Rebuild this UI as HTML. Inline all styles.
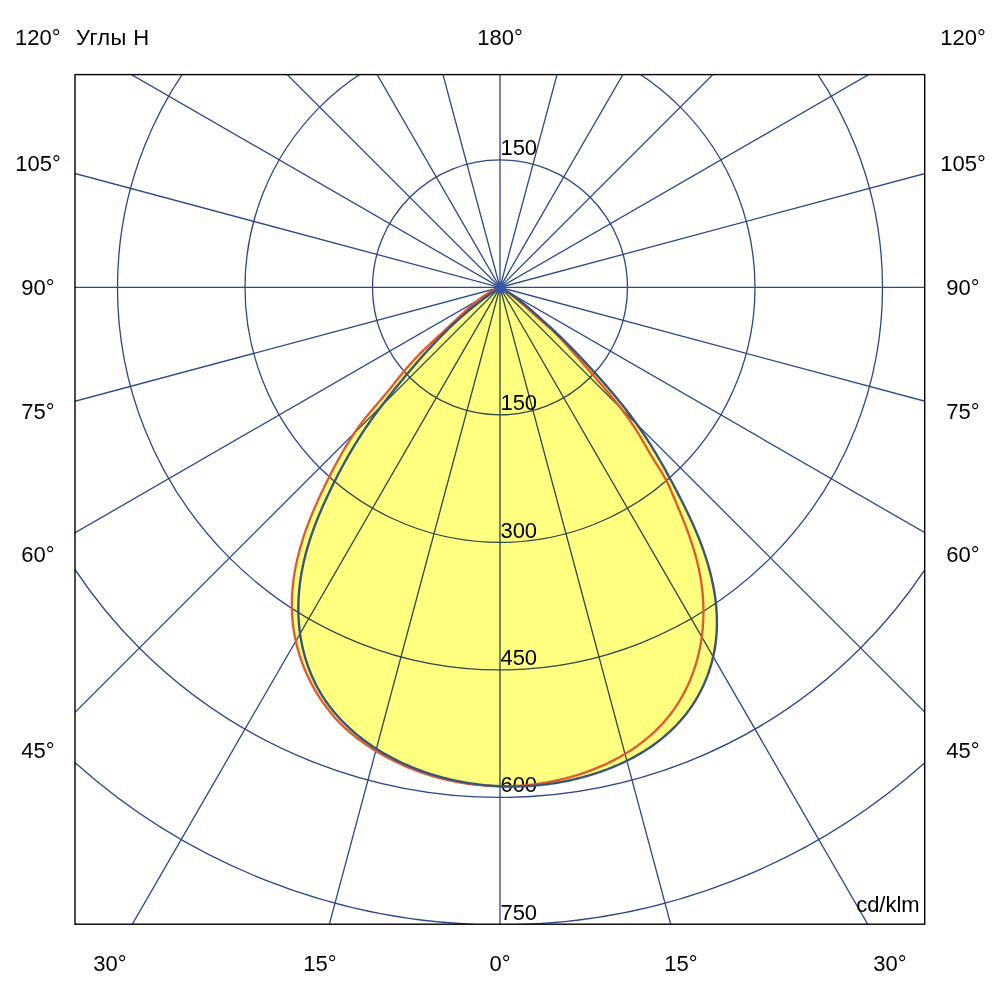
<!DOCTYPE html>
<html><head><meta charset="utf-8"><style>
html,body{margin:0;padding:0;background:#fff;width:1000px;height:1000px;overflow:hidden}
svg{display:block;will-change:transform}
text{font-family:"Liberation Sans",sans-serif;font-size:22px;fill:#000}
</style></head><body>
<svg width="1000" height="1000" viewBox="0 0 1000 1000">
<defs><clipPath id="bx"><rect x="75.0" y="74.6" width="849.7" height="849.6"/></clipPath></defs>
<rect width="1000" height="1000" fill="#fff"/>
<g clip-path="url(#bx)">
<g fill="none" stroke="#2c4787" stroke-width="1.3">
<circle cx="500.0" cy="287.4" r="127.5"/>
<circle cx="500.0" cy="287.4" r="255.0"/>
<circle cx="500.0" cy="287.4" r="382.5"/>
<circle cx="500.0" cy="287.4" r="510.0"/>
<circle cx="500.0" cy="287.4" r="637.5"/>
<circle cx="500.0" cy="287.4" r="765.0"/>
<line x1="500.0" y1="1487.4" x2="500.0" y2="-912.6"/>
<line x1="810.6" y1="1446.5" x2="189.4" y2="-871.7"/>
<line x1="1100.0" y1="1326.6" x2="-100.0" y2="-751.8"/>
<line x1="1348.5" y1="1135.9" x2="-348.5" y2="-561.1"/>
<line x1="1539.2" y1="887.4" x2="-539.2" y2="-312.6"/>
<line x1="1659.1" y1="598.0" x2="-659.1" y2="-23.2"/>
<line x1="1700.0" y1="287.4" x2="-700.0" y2="287.4"/>
<line x1="1659.1" y1="-23.2" x2="-659.1" y2="598.0"/>
<line x1="1539.2" y1="-312.6" x2="-539.2" y2="887.4"/>
<line x1="1348.5" y1="-561.1" x2="-348.5" y2="1135.9"/>
<line x1="1100.0" y1="-751.8" x2="-100.0" y2="1326.6"/>
<line x1="810.6" y1="-871.7" x2="189.4" y2="1446.5"/>
</g>
<text x="500.4" y="155.0" text-anchor="start">150</text>
<text x="500.4" y="410.4" text-anchor="start">150</text>
<text x="500.4" y="537.6" text-anchor="start">300</text>
<text x="500.4" y="664.8" text-anchor="start">450</text>
<text x="500.4" y="792.3" text-anchor="start">600</text>
<text x="500.4" y="920.1" text-anchor="start">750</text>
<g fill="#ffff80" style="mix-blend-mode:multiply">
<path d="M500.00 287.40 L497.15 288.55 L494.33 289.85 L491.54 291.29 L488.78 292.85 L486.06 294.52 L483.38 296.30 L480.74 298.16 L478.14 300.10 L475.58 302.11 L473.07 304.18 L470.60 306.29 L468.17 308.44 L465.78 310.60 L463.43 312.78 L461.12 314.95 L458.85 317.11 L456.61 319.25 L454.40 321.36 L452.22 323.42 L450.06 325.45 L447.93 327.44 L445.82 329.40 L443.74 331.33 L441.67 333.23 L439.63 335.10 L437.62 336.96 L435.62 338.80 L433.65 340.62 L431.70 342.43 L429.77 344.23 L427.86 346.02 L425.97 347.81 L424.11 349.59 L422.27 351.38 L420.46 353.17 L418.67 354.96 L416.91 356.77 L415.18 358.59 L413.47 360.42 L411.79 362.26 L410.14 364.11 L408.52 365.96 L406.92 367.82 L405.34 369.68 L403.79 371.54 L402.25 373.40 L400.74 375.25 L399.25 377.09 L397.77 378.93 L396.30 380.76 L394.86 382.57 L393.42 384.37 L391.99 386.16 L390.57 387.92 L389.15 389.67 L387.74 391.40 L386.34 393.11 L384.93 394.79 L383.53 396.47 L382.13 398.12 L380.73 399.76 L379.34 401.40 L377.95 403.02 L376.57 404.63 L375.20 406.24 L373.83 407.85 L372.47 409.45 L371.12 411.05 L369.78 412.66 L368.45 414.26 L367.14 415.87 L365.83 417.49 L364.55 419.11 L363.28 420.74 L362.02 422.38 L360.78 424.03 L359.56 425.69 L358.36 427.35 L357.17 429.02 L355.99 430.70 L354.84 432.39 L353.69 434.08 L352.56 435.77 L351.45 437.48 L350.35 439.18 L349.26 440.89 L348.19 442.61 L347.13 444.33 L346.08 446.06 L345.04 447.79 L344.02 449.52 L343.00 451.26 L342.00 453.00 L341.01 454.74 L340.02 456.49 L339.05 458.24 L338.09 459.99 L337.13 461.75 L336.19 463.50 L335.25 465.26 L334.32 467.03 L333.39 468.79 L332.47 470.56 L331.56 472.33 L330.66 474.11 L329.76 475.88 L328.86 477.66 L327.97 479.44 L327.08 481.23 L326.20 483.02 L325.32 484.81 L324.44 486.61 L323.57 488.41 L322.70 490.21 L321.84 492.02 L320.98 493.84 L320.13 495.66 L319.28 497.48 L318.44 499.32 L317.60 501.16 L316.77 503.01 L315.95 504.86 L315.14 506.72 L314.33 508.59 L313.53 510.47 L312.73 512.36 L311.95 514.25 L311.17 516.16 L310.40 518.07 L309.64 519.99 L308.89 521.92 L308.15 523.86 L307.42 525.81 L306.70 527.77 L306.00 529.74 L305.30 531.72 L304.62 533.71 L303.94 535.71 L303.28 537.72 L302.64 539.74 L302.01 541.78 L301.39 543.82 L300.78 545.87 L300.19 547.93 L299.62 550.01 L299.06 552.09 L298.52 554.19 L297.99 556.29 L297.48 558.41 L296.99 560.53 L296.52 562.67 L296.07 564.81 L295.63 566.97 L295.22 569.14 L294.83 571.31 L294.46 573.49 L294.11 575.69 L293.78 577.89 L293.48 580.10 L293.20 582.32 L292.95 584.55 L292.72 586.78 L292.51 589.02 L292.33 591.27 L292.18 593.53 L292.05 595.79 L291.96 598.06 L291.88 600.33 L291.84 602.61 L291.83 604.90 L291.84 607.18 L291.89 609.47 L291.97 611.77 L292.07 614.06 L292.21 616.36 L292.38 618.66 L292.58 620.96 L292.81 623.26 L293.08 625.56 L293.38 627.85 L293.71 630.15 L294.08 632.44 L294.48 634.74 L294.91 637.02 L295.38 639.31 L295.87 641.59 L296.41 643.86 L296.97 646.13 L297.57 648.40 L298.19 650.65 L298.85 652.91 L299.55 655.15 L300.27 657.39 L301.03 659.61 L301.81 661.83 L302.63 664.04 L303.48 666.24 L304.36 668.44 L305.27 670.62 L306.22 672.79 L307.19 674.95 L308.19 677.09 L309.22 679.23 L310.28 681.35 L311.37 683.46 L312.49 685.56 L313.64 687.64 L314.82 689.71 L316.02 691.76 L317.25 693.80 L318.51 695.82 L319.80 697.83 L321.12 699.82 L322.46 701.80 L323.83 703.76 L325.23 705.69 L326.66 707.61 L328.12 709.51 L329.60 711.39 L331.11 713.25 L332.65 715.08 L334.22 716.89 L335.82 718.68 L337.44 720.44 L339.09 722.18 L340.77 723.89 L342.48 725.57 L344.21 727.23 L345.97 728.86 L347.75 730.46 L349.56 732.04 L351.39 733.59 L353.24 735.11 L355.11 736.61 L357.00 738.08 L358.91 739.53 L360.83 740.95 L362.78 742.35 L364.74 743.73 L366.72 745.08 L368.71 746.41 L370.71 747.71 L372.73 748.99 L374.76 750.26 L376.80 751.50 L378.86 752.72 L380.92 753.92 L383.00 755.09 L385.09 756.25 L387.19 757.39 L389.29 758.50 L391.41 759.60 L393.54 760.67 L395.68 761.72 L397.83 762.75 L399.99 763.76 L402.15 764.75 L404.33 765.71 L406.51 766.66 L408.71 767.58 L410.91 768.48 L413.12 769.36 L415.34 770.22 L417.56 771.05 L419.80 771.87 L422.04 772.66 L424.28 773.43 L426.54 774.17 L428.80 774.90 L431.07 775.60 L433.34 776.28 L435.62 776.94 L437.91 777.58 L440.20 778.20 L442.50 778.79 L444.81 779.36 L447.11 779.90 L449.43 780.43 L451.75 780.93 L454.07 781.41 L456.40 781.87 L458.73 782.31 L461.06 782.72 L463.40 783.11 L465.74 783.48 L468.09 783.83 L470.44 784.15 L472.79 784.45 L475.15 784.73 L477.51 784.98 L479.87 785.22 L482.23 785.43 L484.59 785.61 L486.96 785.78 L489.33 785.92 L491.70 786.04 L494.07 786.14 L496.44 786.21 L498.81 786.27 L501.19 786.30 L503.56 786.30 L505.94 786.29 L508.31 786.25 L510.68 786.19 L513.06 786.10 L515.43 785.99 L517.81 785.86 L520.18 785.71 L522.55 785.54 L524.92 785.34 L527.29 785.12 L529.66 784.88 L532.02 784.61 L534.38 784.32 L536.75 784.01 L539.10 783.68 L541.46 783.32 L543.81 782.94 L546.17 782.54 L548.51 782.12 L550.86 781.67 L553.20 781.21 L555.54 780.71 L557.87 780.20 L560.20 779.67 L562.52 779.11 L564.84 778.53 L567.16 777.92 L569.47 777.30 L571.78 776.65 L574.08 775.98 L576.38 775.29 L578.67 774.58 L580.95 773.84 L583.23 773.08 L585.50 772.30 L587.77 771.50 L590.03 770.67 L592.28 769.82 L594.52 768.94 L596.75 768.04 L598.98 767.12 L601.20 766.17 L603.40 765.20 L605.60 764.20 L607.79 763.18 L609.96 762.13 L612.13 761.05 L614.28 759.95 L616.42 758.82 L618.54 757.67 L620.66 756.49 L622.75 755.28 L624.84 754.05 L626.90 752.78 L628.96 751.50 L630.99 750.18 L633.01 748.84 L635.01 747.47 L636.99 746.07 L638.95 744.65 L640.89 743.20 L642.81 741.72 L644.71 740.21 L646.59 738.68 L648.45 737.12 L650.28 735.53 L652.09 733.92 L653.87 732.28 L655.63 730.61 L657.36 728.92 L659.07 727.20 L660.74 725.45 L662.39 723.68 L664.02 721.88 L665.61 720.05 L667.17 718.21 L668.70 716.33 L670.19 714.43 L671.66 712.51 L673.09 710.56 L674.49 708.59 L675.85 706.60 L677.19 704.59 L678.48 702.56 L679.75 700.50 L680.98 698.43 L682.18 696.34 L683.34 694.24 L684.47 692.11 L685.56 689.97 L686.63 687.82 L687.65 685.65 L688.65 683.47 L689.61 681.28 L690.53 679.07 L691.42 676.86 L692.28 674.63 L693.11 672.39 L693.90 670.15 L694.65 667.89 L695.38 665.63 L696.07 663.36 L696.73 661.09 L697.36 658.80 L697.95 656.52 L698.51 654.23 L699.04 651.93 L699.54 649.64 L700.01 647.34 L700.44 645.04 L700.85 642.73 L701.22 640.43 L701.57 638.12 L701.88 635.82 L702.17 633.52 L702.42 631.21 L702.65 628.91 L702.84 626.61 L703.01 624.32 L703.15 622.03 L703.26 619.74 L703.35 617.45 L703.40 615.17 L703.43 612.89 L703.43 610.62 L703.41 608.35 L703.36 606.09 L703.28 603.84 L703.18 601.59 L703.05 599.35 L702.89 597.12 L702.72 594.89 L702.51 592.67 L702.29 590.46 L702.04 588.26 L701.76 586.07 L701.47 583.89 L701.15 581.71 L700.81 579.55 L700.44 577.39 L700.06 575.24 L699.66 573.11 L699.23 570.98 L698.79 568.87 L698.32 566.76 L697.84 564.67 L697.34 562.59 L696.82 560.52 L696.29 558.46 L695.74 556.41 L695.17 554.37 L694.59 552.34 L694.00 550.33 L693.39 548.32 L692.77 546.33 L692.14 544.35 L691.50 542.37 L690.84 540.41 L690.18 538.46 L689.50 536.52 L688.82 534.60 L688.13 532.68 L687.43 530.77 L686.72 528.87 L686.01 526.98 L685.29 525.10 L684.56 523.23 L683.83 521.36 L683.09 519.51 L682.35 517.66 L681.61 515.82 L680.86 513.99 L680.11 512.16 L679.36 510.34 L678.61 508.53 L677.85 506.72 L677.10 504.91 L676.34 503.11 L675.58 501.32 L674.83 499.52 L674.07 497.73 L673.31 495.94 L672.56 494.16 L671.80 492.38 L671.03 490.60 L670.25 488.83 L669.46 487.06 L668.65 485.30 L667.82 483.55 L666.97 481.82 L666.09 480.09 L665.19 478.38 L664.25 476.69 L663.29 475.01 L662.31 473.34 L661.32 471.69 L660.30 470.05 L659.28 468.41 L658.25 466.78 L657.22 465.15 L656.19 463.53 L655.16 461.90 L654.13 460.27 L653.12 458.63 L652.12 456.98 L651.12 455.33 L650.13 453.66 L649.15 451.99 L648.17 450.32 L647.19 448.63 L646.22 446.94 L645.24 445.24 L644.25 443.54 L643.27 441.83 L642.27 440.12 L641.27 438.41 L640.26 436.70 L639.23 434.99 L638.20 433.27 L637.15 431.56 L636.09 429.85 L635.00 428.14 L633.91 426.44 L632.79 424.75 L631.65 423.06 L630.50 421.38 L629.33 419.70 L628.15 418.03 L626.94 416.36 L625.73 414.69 L624.49 413.03 L623.24 411.37 L621.98 409.71 L620.70 408.06 L619.41 406.40 L618.11 404.75 L616.79 403.09 L615.46 401.43 L614.11 399.78 L612.76 398.11 L611.39 396.45 L610.00 394.78 L608.61 393.11 L607.20 391.43 L605.78 389.75 L604.34 388.06 L602.90 386.36 L601.44 384.66 L599.97 382.94 L598.48 381.22 L596.98 379.49 L595.47 377.75 L593.94 375.99 L592.40 374.22 L590.84 372.44 L589.27 370.65 L587.69 368.84 L586.09 367.01 L584.47 365.17 L582.83 363.31 L581.18 361.44 L579.51 359.55 L577.82 357.63 L576.12 355.70 L574.39 353.75 L572.64 351.78 L570.87 349.78 L569.08 347.77 L567.26 345.74 L565.42 343.71 L563.54 341.67 L561.63 339.64 L559.69 337.61 L557.72 335.60 L555.71 333.60 L553.66 331.63 L551.57 329.69 L549.45 327.78 L547.29 325.87 L545.10 323.97 L542.89 322.05 L540.64 320.12 L538.37 318.15 L536.07 316.14 L533.74 314.08 L531.39 311.97 L529.00 309.82 L526.57 307.64 L524.10 305.46 L521.59 303.27 L519.04 301.11 L516.45 298.96 L513.81 296.86 L511.13 294.81 L508.41 292.83 L505.65 290.92 L502.84 289.11 L500.00 287.40 Z"/>
<path d="M500.00 287.40 L497.16 289.28 L494.36 291.17 L491.60 293.08 L488.87 295.00 L486.19 296.93 L483.54 298.88 L480.94 300.85 L478.37 302.82 L475.84 304.80 L473.34 306.79 L470.88 308.79 L468.46 310.79 L466.08 312.80 L463.73 314.82 L461.42 316.84 L459.15 318.87 L456.90 320.89 L454.70 322.92 L452.52 324.95 L450.38 326.98 L448.28 329.00 L446.20 331.03 L444.16 333.05 L442.15 335.07 L440.17 337.09 L438.21 339.10 L436.29 341.10 L434.40 343.10 L432.53 345.09 L430.69 347.08 L428.88 349.05 L427.09 351.02 L425.33 352.98 L423.59 354.92 L421.88 356.86 L420.19 358.78 L418.51 360.69 L416.86 362.59 L415.23 364.48 L413.62 366.36 L412.03 368.22 L410.45 370.07 L408.90 371.91 L407.36 373.73 L405.83 375.55 L404.33 377.35 L402.84 379.15 L401.36 380.93 L399.90 382.71 L398.45 384.47 L397.02 386.23 L395.60 387.98 L394.20 389.72 L392.81 391.45 L391.43 393.17 L390.07 394.89 L388.72 396.60 L387.38 398.31 L386.05 400.01 L384.74 401.71 L383.44 403.40 L382.15 405.08 L380.87 406.76 L379.60 408.44 L378.34 410.12 L377.10 411.79 L375.87 413.46 L374.65 415.13 L373.44 416.79 L372.24 418.46 L371.05 420.12 L369.88 421.79 L368.72 423.45 L367.57 425.11 L366.43 426.78 L365.30 428.44 L364.18 430.11 L363.08 431.77 L361.98 433.44 L360.90 435.11 L359.83 436.77 L358.76 438.44 L357.71 440.11 L356.67 441.78 L355.64 443.45 L354.61 445.12 L353.60 446.80 L352.60 448.47 L351.60 450.15 L350.61 451.82 L349.63 453.50 L348.66 455.18 L347.70 456.86 L346.74 458.54 L345.80 460.22 L344.86 461.91 L343.93 463.60 L343.00 465.28 L342.08 466.98 L341.17 468.67 L340.27 470.37 L339.37 472.06 L338.47 473.76 L337.59 475.47 L336.71 477.18 L335.83 478.89 L334.97 480.60 L334.10 482.32 L333.25 484.04 L332.39 485.76 L331.55 487.49 L330.71 489.23 L329.87 490.96 L329.04 492.71 L328.21 494.45 L327.39 496.21 L326.57 497.96 L325.76 499.73 L324.95 501.50 L324.15 503.27 L323.35 505.05 L322.56 506.84 L321.78 508.64 L321.00 510.44 L320.23 512.25 L319.46 514.07 L318.70 515.90 L317.95 517.73 L317.21 519.57 L316.47 521.43 L315.75 523.29 L315.03 525.16 L314.32 527.04 L313.62 528.93 L312.93 530.82 L312.25 532.73 L311.59 534.65 L310.93 536.58 L310.29 538.52 L309.65 540.46 L309.03 542.42 L308.43 544.39 L307.83 546.37 L307.25 548.36 L306.69 550.36 L306.13 552.37 L305.60 554.39 L305.08 556.42 L304.57 558.46 L304.08 560.51 L303.61 562.58 L303.15 564.65 L302.71 566.73 L302.29 568.82 L301.89 570.92 L301.51 573.03 L301.15 575.15 L300.80 577.28 L300.48 579.42 L300.18 581.57 L299.90 583.72 L299.64 585.89 L299.40 588.06 L299.18 590.24 L298.99 592.43 L298.82 594.63 L298.68 596.83 L298.56 599.04 L298.46 601.26 L298.39 603.48 L298.35 605.71 L298.33 607.94 L298.34 610.18 L298.37 612.42 L298.43 614.67 L298.52 616.92 L298.64 619.18 L298.78 621.44 L298.96 623.70 L299.16 625.96 L299.39 628.22 L299.65 630.48 L299.94 632.75 L300.26 635.01 L300.61 637.28 L301.00 639.54 L301.41 641.80 L301.85 644.06 L302.33 646.32 L302.84 648.57 L303.38 650.82 L303.95 653.06 L304.55 655.30 L305.19 657.53 L305.86 659.75 L306.56 661.97 L307.30 664.18 L308.07 666.38 L308.87 668.57 L309.70 670.76 L310.57 672.93 L311.48 675.09 L312.41 677.23 L313.38 679.37 L314.38 681.49 L315.42 683.60 L316.49 685.69 L317.59 687.76 L318.73 689.82 L319.90 691.86 L321.11 693.88 L322.34 695.89 L323.61 697.87 L324.92 699.84 L326.25 701.78 L327.62 703.71 L329.01 705.61 L330.44 707.49 L331.89 709.35 L333.38 711.19 L334.89 713.01 L336.43 714.80 L337.99 716.58 L339.58 718.33 L341.20 720.06 L342.84 721.76 L344.50 723.44 L346.19 725.10 L347.90 726.74 L349.64 728.35 L351.39 729.94 L353.17 731.51 L354.96 733.05 L356.78 734.57 L358.62 736.07 L360.47 737.54 L362.34 738.99 L364.23 740.42 L366.14 741.83 L368.06 743.21 L370.00 744.56 L371.96 745.90 L373.93 747.21 L375.92 748.50 L377.92 749.77 L379.93 751.01 L381.96 752.23 L383.99 753.44 L386.05 754.61 L388.11 755.77 L390.19 756.90 L392.27 758.02 L394.37 759.11 L396.48 760.18 L398.60 761.22 L400.73 762.25 L402.87 763.25 L405.02 764.23 L407.18 765.19 L409.35 766.13 L411.52 767.05 L413.71 767.94 L415.90 768.81 L418.11 769.66 L420.32 770.49 L422.54 771.30 L424.76 772.08 L426.99 772.85 L429.24 773.59 L431.48 774.31 L433.74 775.01 L436.00 775.69 L438.26 776.35 L440.54 776.98 L442.81 777.60 L445.10 778.19 L447.39 778.76 L449.68 779.31 L451.98 779.84 L454.29 780.35 L456.60 780.84 L458.91 781.31 L461.23 781.76 L463.55 782.19 L465.88 782.60 L468.21 782.98 L470.55 783.35 L472.88 783.70 L475.23 784.02 L477.57 784.33 L479.92 784.62 L482.27 784.88 L484.63 785.13 L486.98 785.36 L489.34 785.56 L491.71 785.75 L494.07 785.91 L496.44 786.06 L498.81 786.18 L501.19 786.29 L503.56 786.37 L505.94 786.44 L508.32 786.48 L510.70 786.50 L513.08 786.51 L515.47 786.49 L517.85 786.45 L520.24 786.39 L522.63 786.31 L525.02 786.20 L527.40 786.08 L529.80 785.93 L532.19 785.77 L534.58 785.58 L536.97 785.37 L539.36 785.15 L541.75 784.89 L544.14 784.62 L546.54 784.33 L548.93 784.01 L551.32 783.68 L553.71 783.32 L556.10 782.94 L558.48 782.54 L560.87 782.12 L563.26 781.67 L565.64 781.21 L568.02 780.72 L570.40 780.21 L572.78 779.67 L575.16 779.12 L577.53 778.54 L579.90 777.94 L582.27 777.32 L584.64 776.68 L587.00 776.02 L589.36 775.33 L591.71 774.62 L594.07 773.89 L596.41 773.13 L598.76 772.35 L601.10 771.55 L603.43 770.72 L605.76 769.87 L608.08 769.00 L610.40 768.09 L612.71 767.17 L615.01 766.21 L617.30 765.23 L619.58 764.23 L621.86 763.19 L624.12 762.13 L626.38 761.04 L628.62 759.92 L630.85 758.78 L633.07 757.60 L635.27 756.40 L637.46 755.17 L639.64 753.91 L641.80 752.61 L643.95 751.29 L646.08 749.94 L648.19 748.56 L650.28 747.15 L652.36 745.71 L654.41 744.24 L656.45 742.74 L658.46 741.21 L660.45 739.65 L662.42 738.06 L664.36 736.43 L666.28 734.78 L668.18 733.10 L670.05 731.39 L671.89 729.65 L673.70 727.88 L675.48 726.08 L677.24 724.25 L678.96 722.39 L680.65 720.50 L682.31 718.58 L683.94 716.64 L685.53 714.67 L687.09 712.67 L688.61 710.64 L690.09 708.59 L691.54 706.51 L692.94 704.40 L694.31 702.27 L695.65 700.12 L696.94 697.94 L698.19 695.74 L699.41 693.52 L700.58 691.28 L701.72 689.03 L702.81 686.75 L703.87 684.45 L704.88 682.14 L705.86 679.81 L706.79 677.47 L707.68 675.11 L708.53 672.74 L709.34 670.36 L710.11 667.96 L710.84 665.55 L711.53 663.14 L712.17 660.71 L712.77 658.28 L713.34 655.83 L713.86 653.38 L714.34 650.93 L714.77 648.47 L715.17 646.00 L715.52 643.53 L715.84 641.06 L716.11 638.59 L716.34 636.11 L716.53 633.64 L716.69 631.16 L716.80 628.69 L716.88 626.22 L716.92 623.75 L716.92 621.29 L716.89 618.83 L716.82 616.37 L716.72 613.93 L716.58 611.49 L716.41 609.05 L716.21 606.63 L715.98 604.21 L715.71 601.81 L715.42 599.41 L715.10 597.02 L714.75 594.65 L714.38 592.28 L713.98 589.93 L713.55 587.59 L713.10 585.26 L712.62 582.95 L712.13 580.65 L711.61 578.36 L711.07 576.08 L710.51 573.82 L709.93 571.57 L709.33 569.34 L708.72 567.12 L708.09 564.91 L707.44 562.72 L706.77 560.54 L706.09 558.38 L705.40 556.23 L704.69 554.09 L703.96 551.97 L703.22 549.87 L702.47 547.77 L701.71 545.69 L700.94 543.63 L700.15 541.58 L699.35 539.54 L698.54 537.52 L697.73 535.51 L696.90 533.51 L696.07 531.52 L695.22 529.55 L694.37 527.59 L693.51 525.65 L692.65 523.71 L691.78 521.79 L690.90 519.88 L690.02 517.98 L689.13 516.09 L688.24 514.21 L687.34 512.34 L686.44 510.48 L685.53 508.63 L684.63 506.79 L683.72 504.96 L682.81 503.14 L681.89 501.32 L680.98 499.51 L680.06 497.71 L679.14 495.92 L678.22 494.13 L677.30 492.35 L676.38 490.57 L675.46 488.80 L674.53 487.04 L673.61 485.27 L672.68 483.52 L671.74 481.77 L670.81 480.02 L669.87 478.27 L668.93 476.53 L667.98 474.80 L667.04 473.06 L666.08 471.33 L665.13 469.60 L664.16 467.88 L663.20 466.16 L662.23 464.44 L661.25 462.72 L660.26 461.01 L659.27 459.30 L658.28 457.59 L657.28 455.88 L656.27 454.17 L655.25 452.47 L654.22 450.77 L653.19 449.07 L652.15 447.37 L651.10 445.67 L650.04 443.98 L648.98 442.29 L647.90 440.60 L646.82 438.91 L645.72 437.22 L644.61 435.53 L643.50 433.85 L642.37 432.17 L641.23 430.49 L640.08 428.82 L638.92 427.14 L637.74 425.47 L636.56 423.80 L635.36 422.13 L634.15 420.47 L632.93 418.81 L631.69 417.14 L630.45 415.48 L629.19 413.82 L627.92 412.16 L626.64 410.50 L625.35 408.84 L624.04 407.18 L622.73 405.51 L621.40 403.85 L620.06 402.19 L618.71 400.52 L617.34 398.85 L615.97 397.18 L614.58 395.50 L613.18 393.82 L611.76 392.14 L610.34 390.45 L608.90 388.76 L607.45 387.07 L605.98 385.37 L604.50 383.66 L603.01 381.95 L601.50 380.23 L599.98 378.51 L598.44 376.78 L596.88 375.04 L595.32 373.29 L593.73 371.54 L592.13 369.78 L590.52 368.01 L588.88 366.23 L587.23 364.45 L585.56 362.65 L583.87 360.85 L582.16 359.03 L580.44 357.21 L578.69 355.38 L576.92 353.53 L575.14 351.68 L573.33 349.81 L571.50 347.94 L569.64 346.05 L567.76 344.15 L565.86 342.25 L563.93 340.33 L561.98 338.41 L560.00 336.48 L557.99 334.55 L555.95 332.60 L553.88 330.66 L551.79 328.70 L549.67 326.74 L547.51 324.77 L545.33 322.79 L543.11 320.79 L540.87 318.77 L538.60 316.73 L536.29 314.66 L533.95 312.56 L531.58 310.45 L529.17 308.33 L526.72 306.21 L524.23 304.10 L521.70 302.01 L519.13 299.96 L516.51 297.95 L513.86 295.99 L511.16 294.10 L508.43 292.29 L505.65 290.56 L502.84 288.92 L500.00 287.40 Z"/>
</g>
<path d="M500.00 287.40 L497.15 288.55 L494.33 289.85 L491.54 291.29 L488.78 292.85 L486.06 294.52 L483.38 296.30 L480.74 298.16 L478.14 300.10 L475.58 302.11 L473.07 304.18 L470.60 306.29 L468.17 308.44 L465.78 310.60 L463.43 312.78 L461.12 314.95 L458.85 317.11 L456.61 319.25 L454.40 321.36 L452.22 323.42 L450.06 325.45 L447.93 327.44 L445.82 329.40 L443.74 331.33 L441.67 333.23 L439.63 335.10 L437.62 336.96 L435.62 338.80 L433.65 340.62 L431.70 342.43 L429.77 344.23 L427.86 346.02 L425.97 347.81 L424.11 349.59 L422.27 351.38 L420.46 353.17 L418.67 354.96 L416.91 356.77 L415.18 358.59 L413.47 360.42 L411.79 362.26 L410.14 364.11 L408.52 365.96 L406.92 367.82 L405.34 369.68 L403.79 371.54 L402.25 373.40 L400.74 375.25 L399.25 377.09 L397.77 378.93 L396.30 380.76 L394.86 382.57 L393.42 384.37 L391.99 386.16 L390.57 387.92 L389.15 389.67 L387.74 391.40 L386.34 393.11 L384.93 394.79 L383.53 396.47 L382.13 398.12 L380.73 399.76 L379.34 401.40 L377.95 403.02 L376.57 404.63 L375.20 406.24 L373.83 407.85 L372.47 409.45 L371.12 411.05 L369.78 412.66 L368.45 414.26 L367.14 415.87 L365.83 417.49 L364.55 419.11 L363.28 420.74 L362.02 422.38 L360.78 424.03 L359.56 425.69 L358.36 427.35 L357.17 429.02 L355.99 430.70 L354.84 432.39 L353.69 434.08 L352.56 435.77 L351.45 437.48 L350.35 439.18 L349.26 440.89 L348.19 442.61 L347.13 444.33 L346.08 446.06 L345.04 447.79 L344.02 449.52 L343.00 451.26 L342.00 453.00 L341.01 454.74 L340.02 456.49 L339.05 458.24 L338.09 459.99 L337.13 461.75 L336.19 463.50 L335.25 465.26 L334.32 467.03 L333.39 468.79 L332.47 470.56 L331.56 472.33 L330.66 474.11 L329.76 475.88 L328.86 477.66 L327.97 479.44 L327.08 481.23 L326.20 483.02 L325.32 484.81 L324.44 486.61 L323.57 488.41 L322.70 490.21 L321.84 492.02 L320.98 493.84 L320.13 495.66 L319.28 497.48 L318.44 499.32 L317.60 501.16 L316.77 503.01 L315.95 504.86 L315.14 506.72 L314.33 508.59 L313.53 510.47 L312.73 512.36 L311.95 514.25 L311.17 516.16 L310.40 518.07 L309.64 519.99 L308.89 521.92 L308.15 523.86 L307.42 525.81 L306.70 527.77 L306.00 529.74 L305.30 531.72 L304.62 533.71 L303.94 535.71 L303.28 537.72 L302.64 539.74 L302.01 541.78 L301.39 543.82 L300.78 545.87 L300.19 547.93 L299.62 550.01 L299.06 552.09 L298.52 554.19 L297.99 556.29 L297.48 558.41 L296.99 560.53 L296.52 562.67 L296.07 564.81 L295.63 566.97 L295.22 569.14 L294.83 571.31 L294.46 573.49 L294.11 575.69 L293.78 577.89 L293.48 580.10 L293.20 582.32 L292.95 584.55 L292.72 586.78 L292.51 589.02 L292.33 591.27 L292.18 593.53 L292.05 595.79 L291.96 598.06 L291.88 600.33 L291.84 602.61 L291.83 604.90 L291.84 607.18 L291.89 609.47 L291.97 611.77 L292.07 614.06 L292.21 616.36 L292.38 618.66 L292.58 620.96 L292.81 623.26 L293.08 625.56 L293.38 627.85 L293.71 630.15 L294.08 632.44 L294.48 634.74 L294.91 637.02 L295.38 639.31 L295.87 641.59 L296.41 643.86 L296.97 646.13 L297.57 648.40 L298.19 650.65 L298.85 652.91 L299.55 655.15 L300.27 657.39 L301.03 659.61 L301.81 661.83 L302.63 664.04 L303.48 666.24 L304.36 668.44 L305.27 670.62 L306.22 672.79 L307.19 674.95 L308.19 677.09 L309.22 679.23 L310.28 681.35 L311.37 683.46 L312.49 685.56 L313.64 687.64 L314.82 689.71 L316.02 691.76 L317.25 693.80 L318.51 695.82 L319.80 697.83 L321.12 699.82 L322.46 701.80 L323.83 703.76 L325.23 705.69 L326.66 707.61 L328.12 709.51 L329.60 711.39 L331.11 713.25 L332.65 715.08 L334.22 716.89 L335.82 718.68 L337.44 720.44 L339.09 722.18 L340.77 723.89 L342.48 725.57 L344.21 727.23 L345.97 728.86 L347.75 730.46 L349.56 732.04 L351.39 733.59 L353.24 735.11 L355.11 736.61 L357.00 738.08 L358.91 739.53 L360.83 740.95 L362.78 742.35 L364.74 743.73 L366.72 745.08 L368.71 746.41 L370.71 747.71 L372.73 748.99 L374.76 750.26 L376.80 751.50 L378.86 752.72 L380.92 753.92 L383.00 755.09 L385.09 756.25 L387.19 757.39 L389.29 758.50 L391.41 759.60 L393.54 760.67 L395.68 761.72 L397.83 762.75 L399.99 763.76 L402.15 764.75 L404.33 765.71 L406.51 766.66 L408.71 767.58 L410.91 768.48 L413.12 769.36 L415.34 770.22 L417.56 771.05 L419.80 771.87 L422.04 772.66 L424.28 773.43 L426.54 774.17 L428.80 774.90 L431.07 775.60 L433.34 776.28 L435.62 776.94 L437.91 777.58 L440.20 778.20 L442.50 778.79 L444.81 779.36 L447.11 779.90 L449.43 780.43 L451.75 780.93 L454.07 781.41 L456.40 781.87 L458.73 782.31 L461.06 782.72 L463.40 783.11 L465.74 783.48 L468.09 783.83 L470.44 784.15 L472.79 784.45 L475.15 784.73 L477.51 784.98 L479.87 785.22 L482.23 785.43 L484.59 785.61 L486.96 785.78 L489.33 785.92 L491.70 786.04 L494.07 786.14 L496.44 786.21 L498.81 786.27 L501.19 786.30 L503.56 786.30 L505.94 786.29 L508.31 786.25 L510.68 786.19 L513.06 786.10 L515.43 785.99 L517.81 785.86 L520.18 785.71 L522.55 785.54 L524.92 785.34 L527.29 785.12 L529.66 784.88 L532.02 784.61 L534.38 784.32 L536.75 784.01 L539.10 783.68 L541.46 783.32 L543.81 782.94 L546.17 782.54 L548.51 782.12 L550.86 781.67 L553.20 781.21 L555.54 780.71 L557.87 780.20 L560.20 779.67 L562.52 779.11 L564.84 778.53 L567.16 777.92 L569.47 777.30 L571.78 776.65 L574.08 775.98 L576.38 775.29 L578.67 774.58 L580.95 773.84 L583.23 773.08 L585.50 772.30 L587.77 771.50 L590.03 770.67 L592.28 769.82 L594.52 768.94 L596.75 768.04 L598.98 767.12 L601.20 766.17 L603.40 765.20 L605.60 764.20 L607.79 763.18 L609.96 762.13 L612.13 761.05 L614.28 759.95 L616.42 758.82 L618.54 757.67 L620.66 756.49 L622.75 755.28 L624.84 754.05 L626.90 752.78 L628.96 751.50 L630.99 750.18 L633.01 748.84 L635.01 747.47 L636.99 746.07 L638.95 744.65 L640.89 743.20 L642.81 741.72 L644.71 740.21 L646.59 738.68 L648.45 737.12 L650.28 735.53 L652.09 733.92 L653.87 732.28 L655.63 730.61 L657.36 728.92 L659.07 727.20 L660.74 725.45 L662.39 723.68 L664.02 721.88 L665.61 720.05 L667.17 718.21 L668.70 716.33 L670.19 714.43 L671.66 712.51 L673.09 710.56 L674.49 708.59 L675.85 706.60 L677.19 704.59 L678.48 702.56 L679.75 700.50 L680.98 698.43 L682.18 696.34 L683.34 694.24 L684.47 692.11 L685.56 689.97 L686.63 687.82 L687.65 685.65 L688.65 683.47 L689.61 681.28 L690.53 679.07 L691.42 676.86 L692.28 674.63 L693.11 672.39 L693.90 670.15 L694.65 667.89 L695.38 665.63 L696.07 663.36 L696.73 661.09 L697.36 658.80 L697.95 656.52 L698.51 654.23 L699.04 651.93 L699.54 649.64 L700.01 647.34 L700.44 645.04 L700.85 642.73 L701.22 640.43 L701.57 638.12 L701.88 635.82 L702.17 633.52 L702.42 631.21 L702.65 628.91 L702.84 626.61 L703.01 624.32 L703.15 622.03 L703.26 619.74 L703.35 617.45 L703.40 615.17 L703.43 612.89 L703.43 610.62 L703.41 608.35 L703.36 606.09 L703.28 603.84 L703.18 601.59 L703.05 599.35 L702.89 597.12 L702.72 594.89 L702.51 592.67 L702.29 590.46 L702.04 588.26 L701.76 586.07 L701.47 583.89 L701.15 581.71 L700.81 579.55 L700.44 577.39 L700.06 575.24 L699.66 573.11 L699.23 570.98 L698.79 568.87 L698.32 566.76 L697.84 564.67 L697.34 562.59 L696.82 560.52 L696.29 558.46 L695.74 556.41 L695.17 554.37 L694.59 552.34 L694.00 550.33 L693.39 548.32 L692.77 546.33 L692.14 544.35 L691.50 542.37 L690.84 540.41 L690.18 538.46 L689.50 536.52 L688.82 534.60 L688.13 532.68 L687.43 530.77 L686.72 528.87 L686.01 526.98 L685.29 525.10 L684.56 523.23 L683.83 521.36 L683.09 519.51 L682.35 517.66 L681.61 515.82 L680.86 513.99 L680.11 512.16 L679.36 510.34 L678.61 508.53 L677.85 506.72 L677.10 504.91 L676.34 503.11 L675.58 501.32 L674.83 499.52 L674.07 497.73 L673.31 495.94 L672.56 494.16 L671.80 492.38 L671.03 490.60 L670.25 488.83 L669.46 487.06 L668.65 485.30 L667.82 483.55 L666.97 481.82 L666.09 480.09 L665.19 478.38 L664.25 476.69 L663.29 475.01 L662.31 473.34 L661.32 471.69 L660.30 470.05 L659.28 468.41 L658.25 466.78 L657.22 465.15 L656.19 463.53 L655.16 461.90 L654.13 460.27 L653.12 458.63 L652.12 456.98 L651.12 455.33 L650.13 453.66 L649.15 451.99 L648.17 450.32 L647.19 448.63 L646.22 446.94 L645.24 445.24 L644.25 443.54 L643.27 441.83 L642.27 440.12 L641.27 438.41 L640.26 436.70 L639.23 434.99 L638.20 433.27 L637.15 431.56 L636.09 429.85 L635.00 428.14 L633.91 426.44 L632.79 424.75 L631.65 423.06 L630.50 421.38 L629.33 419.70 L628.15 418.03 L626.94 416.36 L625.73 414.69 L624.49 413.03 L623.24 411.37 L621.98 409.71 L620.70 408.06 L619.41 406.40 L618.11 404.75 L616.79 403.09 L615.46 401.43 L614.11 399.78 L612.76 398.11 L611.39 396.45 L610.00 394.78 L608.61 393.11 L607.20 391.43 L605.78 389.75 L604.34 388.06 L602.90 386.36 L601.44 384.66 L599.97 382.94 L598.48 381.22 L596.98 379.49 L595.47 377.75 L593.94 375.99 L592.40 374.22 L590.84 372.44 L589.27 370.65 L587.69 368.84 L586.09 367.01 L584.47 365.17 L582.83 363.31 L581.18 361.44 L579.51 359.55 L577.82 357.63 L576.12 355.70 L574.39 353.75 L572.64 351.78 L570.87 349.78 L569.08 347.77 L567.26 345.74 L565.42 343.71 L563.54 341.67 L561.63 339.64 L559.69 337.61 L557.72 335.60 L555.71 333.60 L553.66 331.63 L551.57 329.69 L549.45 327.78 L547.29 325.87 L545.10 323.97 L542.89 322.05 L540.64 320.12 L538.37 318.15 L536.07 316.14 L533.74 314.08 L531.39 311.97 L529.00 309.82 L526.57 307.64 L524.10 305.46 L521.59 303.27 L519.04 301.11 L516.45 298.96 L513.81 296.86 L511.13 294.81 L508.41 292.83 L505.65 290.92 L502.84 289.11 L500.00 287.40 Z" fill="none" stroke="#e4572e" stroke-width="2.3" stroke-linejoin="round"/>
<path d="M500.00 287.40 L497.16 289.28 L494.36 291.17 L491.60 293.08 L488.87 295.00 L486.19 296.93 L483.54 298.88 L480.94 300.85 L478.37 302.82 L475.84 304.80 L473.34 306.79 L470.88 308.79 L468.46 310.79 L466.08 312.80 L463.73 314.82 L461.42 316.84 L459.15 318.87 L456.90 320.89 L454.70 322.92 L452.52 324.95 L450.38 326.98 L448.28 329.00 L446.20 331.03 L444.16 333.05 L442.15 335.07 L440.17 337.09 L438.21 339.10 L436.29 341.10 L434.40 343.10 L432.53 345.09 L430.69 347.08 L428.88 349.05 L427.09 351.02 L425.33 352.98 L423.59 354.92 L421.88 356.86 L420.19 358.78 L418.51 360.69 L416.86 362.59 L415.23 364.48 L413.62 366.36 L412.03 368.22 L410.45 370.07 L408.90 371.91 L407.36 373.73 L405.83 375.55 L404.33 377.35 L402.84 379.15 L401.36 380.93 L399.90 382.71 L398.45 384.47 L397.02 386.23 L395.60 387.98 L394.20 389.72 L392.81 391.45 L391.43 393.17 L390.07 394.89 L388.72 396.60 L387.38 398.31 L386.05 400.01 L384.74 401.71 L383.44 403.40 L382.15 405.08 L380.87 406.76 L379.60 408.44 L378.34 410.12 L377.10 411.79 L375.87 413.46 L374.65 415.13 L373.44 416.79 L372.24 418.46 L371.05 420.12 L369.88 421.79 L368.72 423.45 L367.57 425.11 L366.43 426.78 L365.30 428.44 L364.18 430.11 L363.08 431.77 L361.98 433.44 L360.90 435.11 L359.83 436.77 L358.76 438.44 L357.71 440.11 L356.67 441.78 L355.64 443.45 L354.61 445.12 L353.60 446.80 L352.60 448.47 L351.60 450.15 L350.61 451.82 L349.63 453.50 L348.66 455.18 L347.70 456.86 L346.74 458.54 L345.80 460.22 L344.86 461.91 L343.93 463.60 L343.00 465.28 L342.08 466.98 L341.17 468.67 L340.27 470.37 L339.37 472.06 L338.47 473.76 L337.59 475.47 L336.71 477.18 L335.83 478.89 L334.97 480.60 L334.10 482.32 L333.25 484.04 L332.39 485.76 L331.55 487.49 L330.71 489.23 L329.87 490.96 L329.04 492.71 L328.21 494.45 L327.39 496.21 L326.57 497.96 L325.76 499.73 L324.95 501.50 L324.15 503.27 L323.35 505.05 L322.56 506.84 L321.78 508.64 L321.00 510.44 L320.23 512.25 L319.46 514.07 L318.70 515.90 L317.95 517.73 L317.21 519.57 L316.47 521.43 L315.75 523.29 L315.03 525.16 L314.32 527.04 L313.62 528.93 L312.93 530.82 L312.25 532.73 L311.59 534.65 L310.93 536.58 L310.29 538.52 L309.65 540.46 L309.03 542.42 L308.43 544.39 L307.83 546.37 L307.25 548.36 L306.69 550.36 L306.13 552.37 L305.60 554.39 L305.08 556.42 L304.57 558.46 L304.08 560.51 L303.61 562.58 L303.15 564.65 L302.71 566.73 L302.29 568.82 L301.89 570.92 L301.51 573.03 L301.15 575.15 L300.80 577.28 L300.48 579.42 L300.18 581.57 L299.90 583.72 L299.64 585.89 L299.40 588.06 L299.18 590.24 L298.99 592.43 L298.82 594.63 L298.68 596.83 L298.56 599.04 L298.46 601.26 L298.39 603.48 L298.35 605.71 L298.33 607.94 L298.34 610.18 L298.37 612.42 L298.43 614.67 L298.52 616.92 L298.64 619.18 L298.78 621.44 L298.96 623.70 L299.16 625.96 L299.39 628.22 L299.65 630.48 L299.94 632.75 L300.26 635.01 L300.61 637.28 L301.00 639.54 L301.41 641.80 L301.85 644.06 L302.33 646.32 L302.84 648.57 L303.38 650.82 L303.95 653.06 L304.55 655.30 L305.19 657.53 L305.86 659.75 L306.56 661.97 L307.30 664.18 L308.07 666.38 L308.87 668.57 L309.70 670.76 L310.57 672.93 L311.48 675.09 L312.41 677.23 L313.38 679.37 L314.38 681.49 L315.42 683.60 L316.49 685.69 L317.59 687.76 L318.73 689.82 L319.90 691.86 L321.11 693.88 L322.34 695.89 L323.61 697.87 L324.92 699.84 L326.25 701.78 L327.62 703.71 L329.01 705.61 L330.44 707.49 L331.89 709.35 L333.38 711.19 L334.89 713.01 L336.43 714.80 L337.99 716.58 L339.58 718.33 L341.20 720.06 L342.84 721.76 L344.50 723.44 L346.19 725.10 L347.90 726.74 L349.64 728.35 L351.39 729.94 L353.17 731.51 L354.96 733.05 L356.78 734.57 L358.62 736.07 L360.47 737.54 L362.34 738.99 L364.23 740.42 L366.14 741.83 L368.06 743.21 L370.00 744.56 L371.96 745.90 L373.93 747.21 L375.92 748.50 L377.92 749.77 L379.93 751.01 L381.96 752.23 L383.99 753.44 L386.05 754.61 L388.11 755.77 L390.19 756.90 L392.27 758.02 L394.37 759.11 L396.48 760.18 L398.60 761.22 L400.73 762.25 L402.87 763.25 L405.02 764.23 L407.18 765.19 L409.35 766.13 L411.52 767.05 L413.71 767.94 L415.90 768.81 L418.11 769.66 L420.32 770.49 L422.54 771.30 L424.76 772.08 L426.99 772.85 L429.24 773.59 L431.48 774.31 L433.74 775.01 L436.00 775.69 L438.26 776.35 L440.54 776.98 L442.81 777.60 L445.10 778.19 L447.39 778.76 L449.68 779.31 L451.98 779.84 L454.29 780.35 L456.60 780.84 L458.91 781.31 L461.23 781.76 L463.55 782.19 L465.88 782.60 L468.21 782.98 L470.55 783.35 L472.88 783.70 L475.23 784.02 L477.57 784.33 L479.92 784.62 L482.27 784.88 L484.63 785.13 L486.98 785.36 L489.34 785.56 L491.71 785.75 L494.07 785.91 L496.44 786.06 L498.81 786.18 L501.19 786.29 L503.56 786.37 L505.94 786.44 L508.32 786.48 L510.70 786.50 L513.08 786.51 L515.47 786.49 L517.85 786.45 L520.24 786.39 L522.63 786.31 L525.02 786.20 L527.40 786.08 L529.80 785.93 L532.19 785.77 L534.58 785.58 L536.97 785.37 L539.36 785.15 L541.75 784.89 L544.14 784.62 L546.54 784.33 L548.93 784.01 L551.32 783.68 L553.71 783.32 L556.10 782.94 L558.48 782.54 L560.87 782.12 L563.26 781.67 L565.64 781.21 L568.02 780.72 L570.40 780.21 L572.78 779.67 L575.16 779.12 L577.53 778.54 L579.90 777.94 L582.27 777.32 L584.64 776.68 L587.00 776.02 L589.36 775.33 L591.71 774.62 L594.07 773.89 L596.41 773.13 L598.76 772.35 L601.10 771.55 L603.43 770.72 L605.76 769.87 L608.08 769.00 L610.40 768.09 L612.71 767.17 L615.01 766.21 L617.30 765.23 L619.58 764.23 L621.86 763.19 L624.12 762.13 L626.38 761.04 L628.62 759.92 L630.85 758.78 L633.07 757.60 L635.27 756.40 L637.46 755.17 L639.64 753.91 L641.80 752.61 L643.95 751.29 L646.08 749.94 L648.19 748.56 L650.28 747.15 L652.36 745.71 L654.41 744.24 L656.45 742.74 L658.46 741.21 L660.45 739.65 L662.42 738.06 L664.36 736.43 L666.28 734.78 L668.18 733.10 L670.05 731.39 L671.89 729.65 L673.70 727.88 L675.48 726.08 L677.24 724.25 L678.96 722.39 L680.65 720.50 L682.31 718.58 L683.94 716.64 L685.53 714.67 L687.09 712.67 L688.61 710.64 L690.09 708.59 L691.54 706.51 L692.94 704.40 L694.31 702.27 L695.65 700.12 L696.94 697.94 L698.19 695.74 L699.41 693.52 L700.58 691.28 L701.72 689.03 L702.81 686.75 L703.87 684.45 L704.88 682.14 L705.86 679.81 L706.79 677.47 L707.68 675.11 L708.53 672.74 L709.34 670.36 L710.11 667.96 L710.84 665.55 L711.53 663.14 L712.17 660.71 L712.77 658.28 L713.34 655.83 L713.86 653.38 L714.34 650.93 L714.77 648.47 L715.17 646.00 L715.52 643.53 L715.84 641.06 L716.11 638.59 L716.34 636.11 L716.53 633.64 L716.69 631.16 L716.80 628.69 L716.88 626.22 L716.92 623.75 L716.92 621.29 L716.89 618.83 L716.82 616.37 L716.72 613.93 L716.58 611.49 L716.41 609.05 L716.21 606.63 L715.98 604.21 L715.71 601.81 L715.42 599.41 L715.10 597.02 L714.75 594.65 L714.38 592.28 L713.98 589.93 L713.55 587.59 L713.10 585.26 L712.62 582.95 L712.13 580.65 L711.61 578.36 L711.07 576.08 L710.51 573.82 L709.93 571.57 L709.33 569.34 L708.72 567.12 L708.09 564.91 L707.44 562.72 L706.77 560.54 L706.09 558.38 L705.40 556.23 L704.69 554.09 L703.96 551.97 L703.22 549.87 L702.47 547.77 L701.71 545.69 L700.94 543.63 L700.15 541.58 L699.35 539.54 L698.54 537.52 L697.73 535.51 L696.90 533.51 L696.07 531.52 L695.22 529.55 L694.37 527.59 L693.51 525.65 L692.65 523.71 L691.78 521.79 L690.90 519.88 L690.02 517.98 L689.13 516.09 L688.24 514.21 L687.34 512.34 L686.44 510.48 L685.53 508.63 L684.63 506.79 L683.72 504.96 L682.81 503.14 L681.89 501.32 L680.98 499.51 L680.06 497.71 L679.14 495.92 L678.22 494.13 L677.30 492.35 L676.38 490.57 L675.46 488.80 L674.53 487.04 L673.61 485.27 L672.68 483.52 L671.74 481.77 L670.81 480.02 L669.87 478.27 L668.93 476.53 L667.98 474.80 L667.04 473.06 L666.08 471.33 L665.13 469.60 L664.16 467.88 L663.20 466.16 L662.23 464.44 L661.25 462.72 L660.26 461.01 L659.27 459.30 L658.28 457.59 L657.28 455.88 L656.27 454.17 L655.25 452.47 L654.22 450.77 L653.19 449.07 L652.15 447.37 L651.10 445.67 L650.04 443.98 L648.98 442.29 L647.90 440.60 L646.82 438.91 L645.72 437.22 L644.61 435.53 L643.50 433.85 L642.37 432.17 L641.23 430.49 L640.08 428.82 L638.92 427.14 L637.74 425.47 L636.56 423.80 L635.36 422.13 L634.15 420.47 L632.93 418.81 L631.69 417.14 L630.45 415.48 L629.19 413.82 L627.92 412.16 L626.64 410.50 L625.35 408.84 L624.04 407.18 L622.73 405.51 L621.40 403.85 L620.06 402.19 L618.71 400.52 L617.34 398.85 L615.97 397.18 L614.58 395.50 L613.18 393.82 L611.76 392.14 L610.34 390.45 L608.90 388.76 L607.45 387.07 L605.98 385.37 L604.50 383.66 L603.01 381.95 L601.50 380.23 L599.98 378.51 L598.44 376.78 L596.88 375.04 L595.32 373.29 L593.73 371.54 L592.13 369.78 L590.52 368.01 L588.88 366.23 L587.23 364.45 L585.56 362.65 L583.87 360.85 L582.16 359.03 L580.44 357.21 L578.69 355.38 L576.92 353.53 L575.14 351.68 L573.33 349.81 L571.50 347.94 L569.64 346.05 L567.76 344.15 L565.86 342.25 L563.93 340.33 L561.98 338.41 L560.00 336.48 L557.99 334.55 L555.95 332.60 L553.88 330.66 L551.79 328.70 L549.67 326.74 L547.51 324.77 L545.33 322.79 L543.11 320.79 L540.87 318.77 L538.60 316.73 L536.29 314.66 L533.95 312.56 L531.58 310.45 L529.17 308.33 L526.72 306.21 L524.23 304.10 L521.70 302.01 L519.13 299.96 L516.51 297.95 L513.86 295.99 L511.16 294.10 L508.43 292.29 L505.65 290.56 L502.84 288.92 L500.00 287.40 Z" fill="none" stroke="#3c5478" stroke-width="2.4" stroke-linejoin="round"/>
<circle cx="500.4" cy="288.0" r="5.2" fill="#3456a8"/>
</g>
<rect x="75.0" y="74.6" width="849.7" height="849.6" fill="none" stroke="#000" stroke-width="1.4"/>
<g>
<text x="15.0" y="45.4" text-anchor="start">120°</text>
<text x="76" y="45.4" letter-spacing="0.4">Углы Н</text>
<text x="500.0" y="45.4" text-anchor="middle">180°</text>
<text x="963.0" y="45.4" text-anchor="middle">120°</text>
<text x="38.0" y="171.2" text-anchor="middle">105°</text>
<text x="963.0" y="171.2" text-anchor="middle">105°</text>
<text x="38.0" y="295.2" text-anchor="middle">90°</text>
<text x="963.0" y="295.2" text-anchor="middle">90°</text>
<text x="38.0" y="418.8" text-anchor="middle">75°</text>
<text x="963.0" y="418.8" text-anchor="middle">75°</text>
<text x="38.0" y="561.9" text-anchor="middle">60°</text>
<text x="963.0" y="561.9" text-anchor="middle">60°</text>
<text x="38.0" y="757.6" text-anchor="middle">45°</text>
<text x="963.0" y="757.6" text-anchor="middle">45°</text>
<text x="110.0" y="970.5" text-anchor="middle">30°</text>
<text x="320.0" y="970.5" text-anchor="middle">15°</text>
<text x="500.0" y="970.5" text-anchor="middle">0°</text>
<text x="681.0" y="970.5" text-anchor="middle">15°</text>
<text x="890.0" y="970.5" text-anchor="middle">30°</text>
<text x="919.7" y="911.6" text-anchor="end">cd/klm</text>
</g>
</svg>
</body></html>
